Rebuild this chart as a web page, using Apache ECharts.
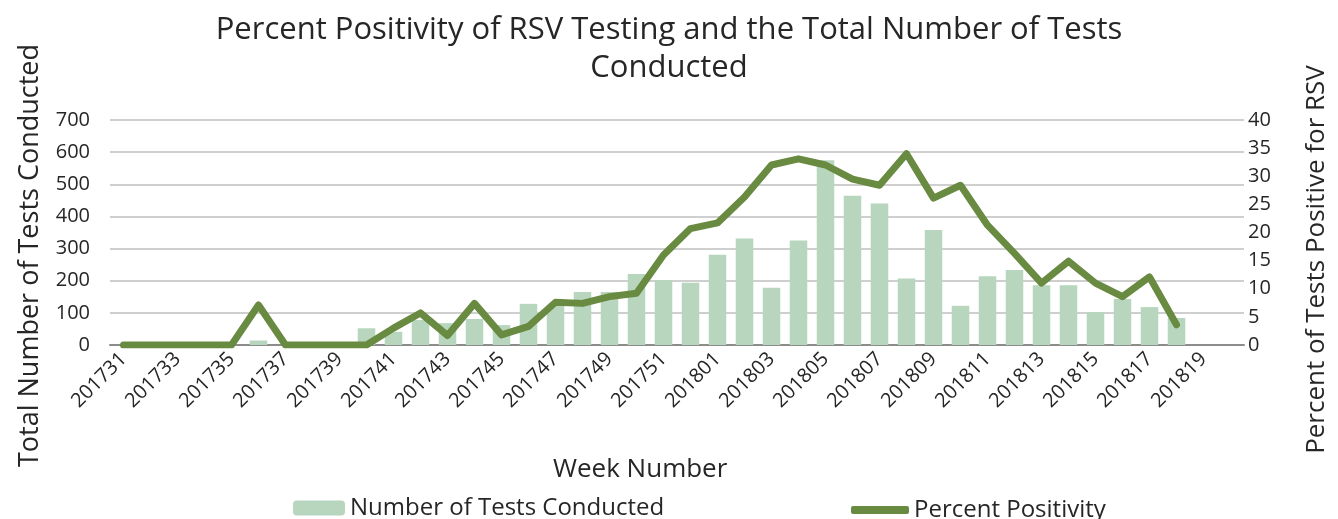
<!DOCTYPE html>
<html>
<head>
<meta charset="utf-8">
<script src="https://cdn.jsdelivr.net/npm/echarts@6/dist/echarts.min.js"></script>
<style>html,body{margin:0;padding:0;background:#fff;}#c{width:1338px;height:519px;}</style>
</head>
<body>
<div id="c"></div>
<script>
const weeks = ['201731','201732','201733','201734','201735','201736','201737','201738','201739','201740',
  '201741','201742','201743','201744','201745','201746','201747','201748','201749','201750',
  '201751','201752','201801','201802','201803','201804','201805','201806','201807','201808',
  '201809','201810','201811','201812','201813','201814','201815','201816','201817','201818',
  '201819','201820'];
const testsConducted = [0,0,0,0,0,14,0,0,0,52,
  41,78,68,81,62,128,122,165,165,221,
  202,194,281,331,178,325,575,464,440,207,
  358,122,214,233,186,186,102,143,118,84,
  null,null];
const percentPositivity = [0,0,0,0,0,7.1,0,0,0,0,
  3.0,5.7,1.7,7.4,1.8,3.3,7.6,7.4,8.6,9.2,
  16.0,20.7,21.7,26.3,32.0,33.1,32.0,29.5,28.4,34.0,
  26.1,28.4,21.3,16.3,11.0,14.9,11.0,8.6,12.1,3.6,
  null,null];
const leftTicks = [0,100,200,300,400,500,600,700];
const rightTicks = [0,5,10,15,20,25,30,35,40];

const FONT = 'Open Sans';
const TXT = '#262626';
const chart = echarts.init(document.getElementById('c'), null, {renderer:'canvas'});
chart.setOption({
  animation:false,
  textStyle:{fontFamily:FONT,color:TXT},
  title:[{
    text:'Percent Positivity of RSV Testing and the Total Number of Tests\nConducted',
    left:'center', top:6,
    textStyle:{fontFamily:FONT,fontSize:31,fontWeight:'normal',color:TXT,lineHeight:38}
  },{
    text:'Week Number', left:548, top:452,
    textStyle:{fontFamily:FONT,fontSize:26,fontWeight:'normal',color:TXT}
  }],
  legend:[{
    data:[{name:'Number of Tests Conducted'}],
    left:288, top:491, itemWidth:52, itemHeight:15, itemGap:4,
    textStyle:{fontFamily:FONT,fontSize:24,color:TXT}
  },{
    data:[{name:'Percent Positivity', icon:'roundRect'}],
    left:846, top:493, itemWidth:58, itemHeight:8, 
    textStyle:{fontFamily:FONT,fontSize:24,color:TXT}
  }],
  grid:{left:110,right:91,top:120,bottom:174},
  xAxis:{
    type:'category', data:weeks,
    axisLine:{lineStyle:{color:'#8c8c8c',width:2}},
    axisTick:{show:false},
    axisLabel:{interval:1, rotate:45, fontFamily:FONT, fontSize:20, color:TXT, margin:11}
  },
  yAxis:[{
    type:'value', min:0, max:700, interval:100,
    name:'Total Number of Tests Conducted', nameLocation:'middle', nameGap:66, nameRotate:90,
    nameTextStyle:{fontFamily:FONT,fontSize:27,color:TXT,padding:[0,46,0,0]},
    axisLabel:{fontFamily:FONT,fontSize:20,color:TXT,margin:20,
      formatter:v=>leftTicks.includes(v)?String(v):''},
    splitLine:{lineStyle:{color:'#bfbfbf',width:1.5}},
    axisLine:{show:false}, axisTick:{show:false}
  },{
    type:'value', min:0, max:40, interval:5,
    name:'Percent of Tests Positive for RSV', nameLocation:'middle', nameGap:60, nameRotate:90,
    nameTextStyle:{fontFamily:FONT,fontSize:26,color:TXT,padding:[0,54,0,0]},
    axisLabel:{fontFamily:FONT,fontSize:20,color:TXT,margin:4,
      formatter:v=>rightTicks.includes(v)?String(v):''},
    splitLine:{show:false}, axisLine:{show:false}, axisTick:{show:false}
  }],
  series:[{
    name:'Number of Tests Conducted', type:'bar', data:testsConducted, yAxisIndex:0,
    barWidth:'65%', itemStyle:{color:'#b7d6bd'}
  },{
    name:'Percent Positivity', type:'line', data:percentPositivity, yAxisIndex:1,
    symbol:'none', lineStyle:{color:'#698a41',width:7,join:'round',cap:'round'},
    itemStyle:{color:'#698a41'}, connectNulls:false
  }]
});
</script>
</body>
</html>
